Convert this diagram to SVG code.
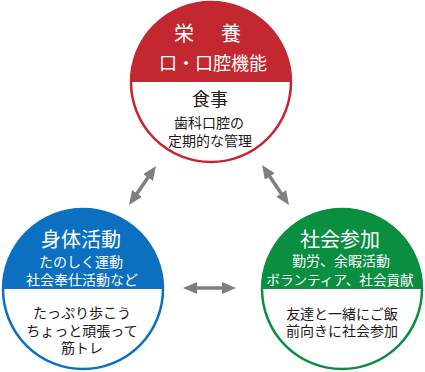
<svg xmlns="http://www.w3.org/2000/svg" width="425" height="372" viewBox="0 0 425 372">
<defs>
<style>
text{font-family:"Noto Sans CJK JP","Noto Sans CJK SC",sans-serif;text-anchor:middle;dominant-baseline:central}
.h{fill:#fff}
.b{fill:#231815}
.t20{font-size:20px}
.t18{font-size:18px}
.t14{font-size:14px}
.ring{fill:#fff;stroke-width:2.5}
.conn{stroke:#7f7f7f;stroke-width:3.5;fill:none;marker-start:url(#ah);marker-end:url(#ah)}
</style>
<marker id="ah" viewBox="0 0 14 12" markerWidth="14" markerHeight="12" refX="6" refY="6" markerUnits="userSpaceOnUse" orient="auto-start-reverse">
<path d="M0,0 L14,6 L0,12 z" fill="#7f7f7f"/>
</marker>
</defs>
<rect width="425" height="372" fill="#fff"/>
<g id="connectors">
<line class="conn" x1="151.4" y1="172.6" x2="133.6" y2="198.4"/>
<line class="conn" x1="266.5" y1="171.6" x2="284.5" y2="198.4"/>
<line class="conn" x1="191" y1="288" x2="228" y2="288"/>
</g>
<g id="node-eiyou">
<circle class="ring" cx="211" cy="82" r="80" stroke="#c3272f"/>
<path d="M131,82 A80,80 0 0 1 291,82 Z" fill="#c3272f"/>
<text class="h t20" x="174" y="32" style="text-anchor:start" letter-spacing="3.5">栄　養</text>
<text class="h t18" x="213" y="62">口・口腔機能</text>
<text class="b t18" x="210" y="98">食事</text>
<text class="b t14" x="209" y="122">歯科口腔の</text>
<text class="b t14" x="210" y="140">定期的な管理</text>
</g>
<g id="node-shintai">
<circle class="ring" cx="83" cy="289" r="80" stroke="#0b70bf"/>
<path d="M3,289 A80,80 0 0 1 163,289 Z" fill="#0b70bf"/>
<text class="h t20" x="81" y="238">身体活動</text>
<text class="h t14" x="81" y="261">たのしく運動</text>
<text class="h t14" x="82" y="279">社会奉仕活動など</text>
<text class="b t14" x="82" y="312">たっぷり歩こう</text>
<text class="b t14" x="82" y="330">ちょっと頑張って</text>
<text class="b t14" x="82" y="347">筋トレ</text>
</g>
<g id="node-shakai">
<circle class="ring" cx="342" cy="289" r="80" stroke="#0a8e3f"/>
<path d="M262,289 A80,80 0 0 1 422,289 Z" fill="#0a8e3f"/>
<text class="h t20" x="340" y="238">社会参加</text>
<text class="h t14" x="341" y="260">勤労、余暇活動</text>
<text class="h" x="340" y="279" style="font-size:13.6px">ボランティア、社会貢献</text>
<text class="b t14" x="342" y="313">友達と一緒にご飯</text>
<text class="b t14" x="342" y="330">前向きに社会参加</text>
</g>
</svg>
